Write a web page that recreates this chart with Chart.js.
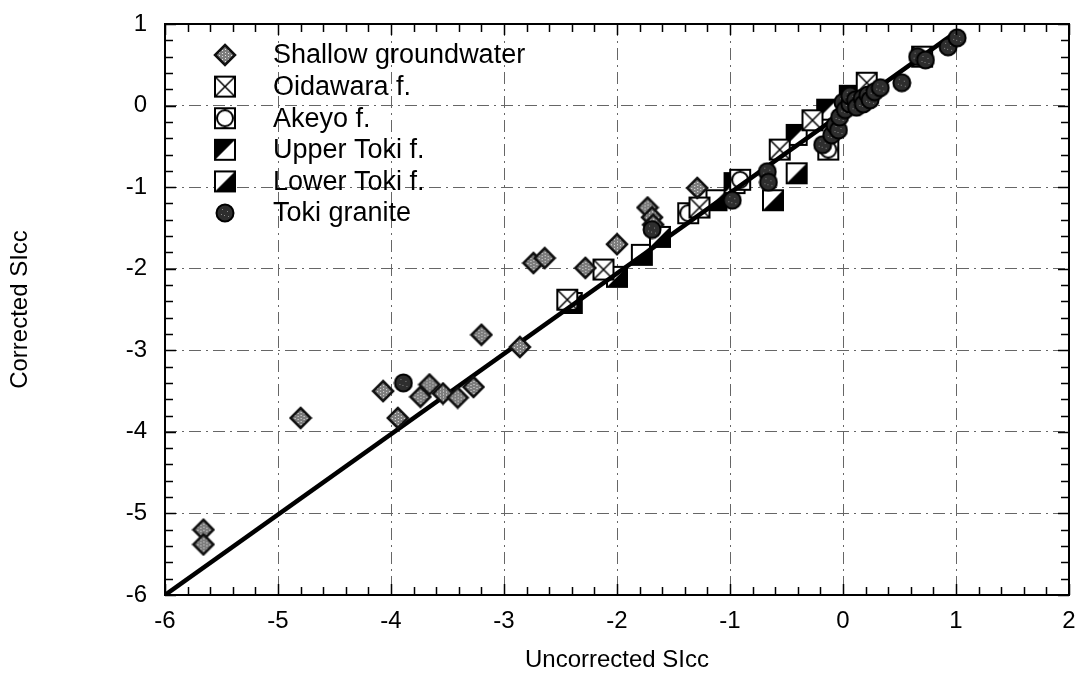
<!DOCTYPE html>
<html>
<head>
<meta charset="utf-8">
<script src="https://cdn.jsdelivr.net/npm/chart.js@4.4.0/dist/chart.umd.min.js"></script>
<style>
  html, body { margin: 0; padding: 0; background: #fff; }
  #wrap { width: 1080px; height: 697px; position: relative; }
</style>
</head>
<body>
<div id="wrap"><canvas id="sicc"></canvas></div>
<script>
// values
const shallowX = [-5.66, -5.66, -4.80, -4.07, -3.94, -3.74, -3.66, -3.54, -3.41, -3.27, -3.20, -2.86, -2.74, -2.64, -2.28, -2.00, -1.73, -1.69, -1.68, -1.29];
const shallowY = [-5.20, -5.38, -3.83, -3.50, -3.83, -3.57, -3.42, -3.53, -3.58, -3.45, -2.81, -2.96, -1.93, -1.87, -1.99, -1.70, -1.25, -1.37, -1.46, -1.01];

const oidawaraX = [-2.44, -2.12, -1.27, -0.56, -0.27, 0.21, 0.70];
const oidawaraY = [-2.38, -2.01, -1.25, -0.54, -0.18, 0.28, 0.60];

const akeyoX = [-0.13, -1.37, -0.91];
const akeyoY = [-0.54, -1.32, -0.91];

const upperTokiX = [-0.41, -0.14, -0.96, 0.06];
const upperTokiY = [-0.36, -0.05, -0.95, 0.12];

const lowerTokiX = [-2.40, -2.00, -1.78, -1.62, -1.12, -0.62, -0.41];
const lowerTokiY = [-2.42, -2.10, -1.83, -1.61, -1.16, -1.16, -0.83];

const graniteX = [-3.89, -1.69, -0.98, -0.67, -0.66, -0.18, -0.10, -0.07, -0.04, -0.03, 0.00, 0.02, 0.06, 0.06, 0.11, 0.12, 0.17, 0.18, 0.22, 0.24, 0.28, 0.33, 0.52, 0.66, 0.73, 0.93, 1.01];
const graniteY = [-3.40, -1.52, -1.16, -0.81, -0.94, -0.48, -0.36, -0.24, -0.30, -0.14, 0.04, -0.05, 0.02, 0.12, 0.07, -0.02, 0.09, 0.02, 0.13, 0.07, 0.17, 0.22, 0.28, 0.60, 0.56, 0.72, 0.83];

const lineX = [-6, 1.0];
const lineY = [-6, 0.9];

const seriesNames = ["Shallow groundwater", "Oidawara f.", "Akeyo f.", "Upper Toki f.", "Lower Toki f.", "Toki granite"];

const xTicks = [-6, -5, -4, -3, -2, -1, 0, 1, 2];
const yTicks = [-6, -5, -4, -3, -2, -1, 0, 1];

function pts(xs, ys) {
    return xs.map((x, i) => ({ x: x, y: ys[i] }));
}

// marker images
function marker(size, draw) {
    const c = document.createElement("canvas");
    c.width = size;
    c.height = size;
    draw(c.getContext("2d"), size);
    return c;
}

const diamond = marker(24, function (g, s) {
    g.beginPath();
    g.moveTo(s / 2, 2);
    g.lineTo(s - 2, s / 2);
    g.lineTo(s / 2, s - 2);
    g.lineTo(2, s / 2);
    g.closePath();
    g.fillStyle = "#7d7d7d";
    g.fill();
    g.save();
    g.clip();
    g.fillStyle = "#e6e6e6";
    for (let i = 0; i < s; i += 3) {
        for (let j = (i / 3) % 2; j < s; j += 3) g.fillRect(i, j, 1, 1);
    }
    g.restore();
    g.lineWidth = 2.5;
    g.strokeStyle = "#111";
    g.stroke();
});

function squareBase(g, s) {
    g.fillStyle = "#fff";
    g.fillRect(2, 2, s - 4, s - 4);
}
function squareEdge(g, s) {
    g.lineWidth = 2;
    g.strokeStyle = "#000";
    g.strokeRect(2, 2, s - 4, s - 4);
}

const oidawaraMark = marker(24, function (g, s) {
    squareBase(g, s);
    g.beginPath();
    g.moveTo(2, 2); g.lineTo(s - 2, s - 2);
    g.moveTo(s - 2, 2); g.lineTo(2, s - 2);
    g.lineWidth = 1.5;
    g.stroke();
    squareEdge(g, s);
});

const akeyoMark = marker(24, function (g, s) {
    squareBase(g, s);
    g.beginPath();
    g.arc(s / 2, s / 2, s / 2 - 4, 0, Math.PI * 2);
    g.lineWidth = 2;
    g.stroke();
    squareEdge(g, s);
});

const upperMark = marker(24, function (g, s) {
    squareBase(g, s);
    g.beginPath();
    g.moveTo(2, 2); g.lineTo(s - 2, 2); g.lineTo(2, s - 2);
    g.closePath();
    g.fillStyle = "#000";
    g.fill();
    squareEdge(g, s);
});

const lowerMark = marker(24, function (g, s) {
    squareBase(g, s);
    g.beginPath();
    g.moveTo(s - 2, 2); g.lineTo(s - 2, s - 2); g.lineTo(2, s - 2);
    g.closePath();
    g.fillStyle = "#000";
    g.fill();
    squareEdge(g, s);
});

const graniteMark = marker(20, function (g, s) {
    g.beginPath();
    g.arc(s / 2, s / 2, s / 2 - 1.5, 0, Math.PI * 2);
    g.fillStyle = "#2e2e2e";
    g.fill();
    g.lineWidth = 2;
    g.strokeStyle = "#000";
    g.stroke();
    g.fillStyle = "#8a8a8a";
    [[7, 6], [12, 8], [9, 12], [13, 13], [6, 11]].forEach(function (p) { g.fillRect(p[0], p[1], 1, 1); });
});

const markImgs = [diamond, oidawaraMark, akeyoMark, upperMark, lowerMark, graniteMark];

// frame, inward ticks and legend
const framePlugin = {
    id: "frame",
    afterDatasetsDraw(chart) {
        const ctx = chart.ctx;
        const a = chart.chartArea;
        const xs = chart.scales.x, ys = chart.scales.y;
        ctx.save();
        ctx.strokeStyle = "#000";
        ctx.lineWidth = 2;
        ctx.strokeRect(a.left, a.top, a.right - a.left, a.bottom - a.top);
        ctx.lineWidth = 1.5;
        ctx.beginPath();
        for (let v = -6; v <= 2.001; v += 0.2) {
            const px = Math.round(xs.getPixelForValue(v)) + 0.5;
            const len = Math.abs(v - Math.round(v)) < 0.01 ? 11 : 8;
            ctx.moveTo(px, a.bottom); ctx.lineTo(px, a.bottom - len);
            ctx.moveTo(px, a.top); ctx.lineTo(px, a.top + len);
        }
        for (let v = -6; v <= 1.001; v += 0.2) {
            const py = Math.round(ys.getPixelForValue(v)) + 0.5;
            const len = Math.abs(v - Math.round(v)) < 0.01 ? 11 : 8;
            ctx.moveTo(a.left, py); ctx.lineTo(a.left + len, py);
            ctx.moveTo(a.right, py); ctx.lineTo(a.right - len, py);
        }
        ctx.stroke();

        // legend inside the plot
        ctx.font = "27px 'Liberation Sans', Arial, sans-serif";
        ctx.textBaseline = "middle";
        ctx.fillStyle = "#000";
        seriesNames.forEach(function (name, i) {
            const y = 55 + i * 31.6;
            const img = markImgs[i];
            ctx.drawImage(img, 225 - img.width / 2, y - img.height / 2);
            ctx.fillText(name, 273, y + 1);
        });
        ctx.restore();
    }
};

const tickFont = { family: "'Liberation Sans', Arial, sans-serif", size: 24 };

new Chart(document.getElementById("sicc"), {
    type: "scatter",
    data: {
        datasets: [
            { label: seriesNames[5], data: pts(graniteX, graniteY), pointStyle: graniteMark, order: 0 },
            { label: seriesNames[0], data: pts(shallowX, shallowY), pointStyle: diamond, order: 1 },
            { label: "1:1", data: pts(lineX, lineY), showLine: true, borderColor: "#000", borderWidth: 4.5, pointRadius: 0, pointHoverRadius: 0, order: 2 },
            { label: seriesNames[1], data: pts(oidawaraX, oidawaraY), pointStyle: oidawaraMark, order: 3 },
            { label: seriesNames[2], data: pts(akeyoX, akeyoY), pointStyle: akeyoMark, order: 4 },
            { label: seriesNames[3], data: pts(upperTokiX, upperTokiY), pointStyle: upperMark, order: 5 },
            { label: seriesNames[4], data: pts(lowerTokiX, lowerTokiY), pointStyle: lowerMark, order: 6 },
        ],
    },
    options: {
        responsive: true,
        maintainAspectRatio: false,
        animation: false,
        layout: { padding: { top: 24, right: 11, left: 0, bottom: 0 } },
        plugins: {
            legend: { display: false },
            tooltip: { enabled: false },
        },
        scales: {
            x: {
                type: "linear",
                min: -6,
                max: 2,
                afterFit: function (s) {
                    s.height = 102;
                    s.paddingLeft = 0;
                    s.paddingRight = 0;
                },
                afterBuildTicks: function (s) { s.ticks = xTicks.map(v => ({ value: v })); },
                ticks: { color: "#000", font: tickFont, padding: 12, maxRotation: 0 },
                grid: { color: "#666", lineWidth: 1, drawTicks: false },
                border: { display: false, dash: [12, 5, 2, 5] },
                title: {
                    display: true,
                    text: "Uncorrected SIcc",
                    color: "#000",
                    font: { family: "'Liberation Sans', Arial, sans-serif", size: 24 },
                    padding: { top: 0, bottom: 22 },
                },
            },
            y: {
                type: "linear",
                min: -6,
                max: 1,
                afterFit: function (s) {
                    s.width = 165;
                    s.paddingTop = 0;
                    s.paddingBottom = 0;
                },
                afterBuildTicks: function (s) { s.ticks = yTicks.map(v => ({ value: v })); },
                ticks: { color: "#000", font: tickFont, padding: 18 },
                grid: { color: "#666", lineWidth: 1, drawTicks: false },
                border: { display: false, dash: [12, 5, 2, 5] },
                title: {
                    display: true,
                    text: "Corrected SIcc",
                    color: "#000",
                    font: { family: "'Liberation Sans', Arial, sans-serif", size: 24 },
                    padding: { top: 6, bottom: 0 },
                },
            },
        },
    },
    plugins: [framePlugin],
});
</script>
</body>
</html>
